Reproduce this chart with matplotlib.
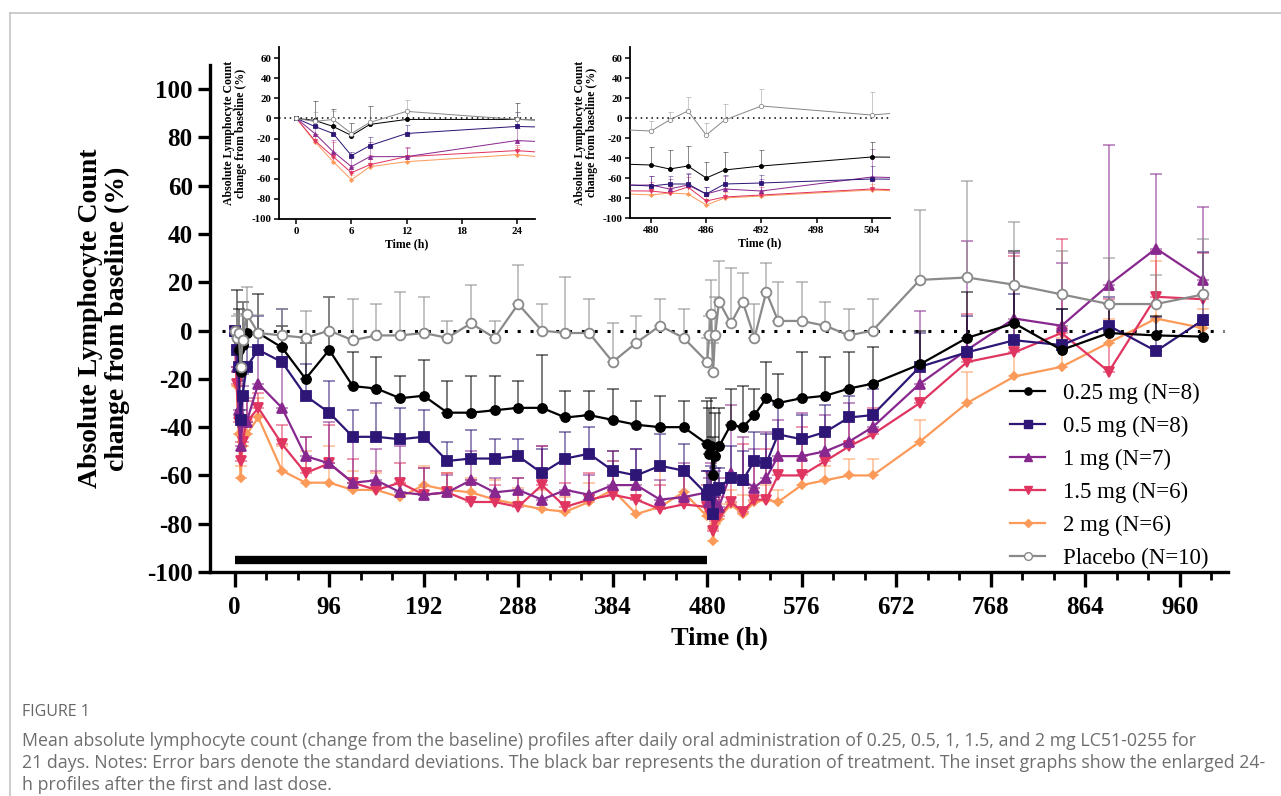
import numpy as np
import matplotlib
matplotlib.use("Agg")
import matplotlib.pyplot as plt
from matplotlib.lines import Line2D

plt.rcParams["axes.unicode_minus"] = False

# sampling times (h)
times = [0, 2, 4, 6, 8, 12, 24,
         48, 72, 96, 120, 144, 168, 192, 216, 240, 264, 288, 312, 336, 360, 384, 408, 432, 456,
         480, 482, 484, 486, 488, 492, 504,
         516, 528, 540, 552,
         576, 600, 624, 648,
         696, 744, 792, 840, 888, 936, 984]

mean_025 = [0, -2, -8, -17, -6, -1, -1,
            -7, -20, -8, -23, -24, -28, -27, -34, -34, -33, -32, -32, -36, -35, -37, -39, -40, -40,
            -47, -51, -48, -60, -52, -48, -39,
            -40, -35, -28, -30,
            -28, -27, -24, -22,
            -14, -3, 3, -8, -1, -2, -2.5]
sd_025 = [0, 19, 17, 12, 18, 8, 16,
          9, 15, 22, 14, 13, 9, 15, 13, 15, 14, 11, 22, 11, 10, 13, 10, 13, 11,
          18, 19, 20, 16, 18, 16, 15,
          17, 11, 15, 12,
          19, 16, 15, 15,
          14, 19, 30, 17, 12, 8, 5]

mean_05 = [0, -8, -15, -37, -27, -15, -8,
           -13, -27, -34, -44, -44, -45, -44, -54, -53, -53, -52, -59, -53, -51, -58, -60, -56, -58,
           -68, -66, -66, -76, -66, -65, -61,
           -62, -54, -55, -43,
           -45, -42, -36, -35,
           -15, -9, -4, -6, 2, -8.5, 4.5]
sd_05 = [0, 6, 8, 4, 9, 8, 14,
         22, 13, 13, 11, 14, 13, 11, 8, 12, 8, 7, 10, 11, 11, 8, 11, 13, 11,
         10, 8, 10, 7, 9, 8, 13,
         12, 12, 12, 12,
         10, 11, 9, 11,
         14, 15, 19, 15, 12, 14, 28]

mean_1 = [0, -15, -33, -48, -38, -38, -22,
          -32, -52, -55, -63, -62, -67, -68, -67, -62, -67, -66, -70, -66, -68, -64, -64, -70, -69,
          -67, -71, -67, -76, -71, -73, -59,
          -62, -65, -61, -52,
          -52, -50, -46, -40,
          -22, -8, 5, 2, 19, 34, 21]
sd_1 = [0, 8, 12, 10, 15, 10, 12,
        21, 8, 17, 18, 13, 19, 11, 7, 12, 6, 5, 22, 11, 8, 10, 15, 8, 14,
        9, 10, 12, 7, 13, 12, 28,
        18, 16, 19, 15,
        18, 15, 16, 18,
        30, 45, 27, 26, 58, 31, 30]

mean_15 = [0, -22, -38, -54, -46, -38, -32,
           -47, -59, -55, -63, -66, -63, -68, -67, -71, -71, -73, -64, -73, -70, -68, -70, -74, -72,
           -73, -75, -69, -83, -79, -77, -71,
           -75, -70, -70, -60,
           -60, -54, -48, -43,
           -30, -13, -9, -1, -17, 14, 13]
sd_15 = [0, 7, 15, 8, 10, 9, 6,
         8, 15, 16, 10, 8, 8, 11, 8, 9, 7, 12, 16, 10, 11, 18, 9, 10, 16,
         9, 8, 10, 6, 9, 8, 9,
         28, 15, 21, 16,
         20, 11, 12, 11,
         14, 20, 40, 39, 30, 19, 19]

mean_2 = [0, -23, -43, -61, -48, -43, -36,
          -58, -63, -63, -66, -66, -69, -64, -66, -67, -70, -72, -74, -75, -71, -66, -76, -73, -67,
          -77, -75, -76, -87, -80, -78, -72,
          -76, -71, -70, -71,
          -64, -62, -60, -60,
          -46, -30, -19, -15, -5, 5, 1]
sd_2 = [0, 6, 8, 5, 8, 6, 8,
        10, 13, 15, 8, 7, 6, 8, 7, 6, 8, 7, 8, 6, 8, 12, 8, 15, 8,
        6, 6, 7, 5, 6, 6, 6,
        8, 6, 6, 5,
        11, 6, 7, 7,
        9, 13, 14, 12, 10, 24, 8]

mean_pbo = [0, -3, -1, -15, -4, 7, -1,
            -2, -3, 0, -4, -2, -2, -1, -3, 3, -3, 11, 0, -1, -1, -13, -5, 2, -3,
            -13, -2, 7, -17, -2, 12, 3,
            12, -3, 16, 4,
            4, 2, -2, 0,
            21, 22, 19, 15, 11, 11, 15]
sd_pbo = [0, 9, 8, 10, 16, 11, 7.5,
          11, 11, 14, 17, 13, 18, 15, 7, 16, 7, 16, 11, 23, 14, 16, 11, 11, 12,
          10, 8, 14, 12, 16, 17, 23,
          12, 14, 12, 16,
          16, 10, 11, 13,
          29, 40, 26, 18, 19, 12, 23]

labels = ["0.25 mg (N=8)", "0.5 mg (N=8)", "1 mg (N=7)", "1.5 mg (N=6)", "2 mg (N=6)", "Placebo (N=10)"]
means = [mean_025, mean_05, mean_1, mean_15, mean_2, mean_pbo]
sds = [sd_025, sd_05, sd_1, sd_15, sd_2, sd_pbo]
colors = ["#000000", "#2e1676", "#88288f", "#e03560", "#fc9a5a", "#8a8a8a"]
markers = ["o", "s", "^", "v", "D", "o"]
msizes = [6.5, 6.5, 6.5, 6.5, 4.5, 7]

treat_start, treat_end = 0, 480

SERIF = "Liberation Serif"


def draw_series(ax, scale, zorders):
    for m, s, c, mk, ms, z in zip(means, sds, colors, markers, msizes, zorders):
        m = np.array(m, dtype=float)
        s = np.array(s, dtype=float)
        ax.errorbar(times, m, yerr=[np.zeros_like(s), s], fmt="none", ecolor=c, alpha=0.6,
                    elinewidth=1.2 * scale, capsize=4 * scale, capthick=1.2 * scale, zorder=z - 1)
        face = "white" if mk == "o" and c == "#8a8a8a" else c
        ax.plot(times, m, color=c, lw=1.6 * scale, marker=mk, ms=ms * scale,
                mfc=face, mec=c, mew=1.3 * scale, zorder=z)


fig = plt.figure(figsize=(12.81, 7.96), dpi=100)

# light panel border
fig.add_artist(Line2D([10 / 1281, 1], [1 - 13 / 796, 1 - 13 / 796], color="#c4c4c4", lw=1.2))
fig.add_artist(Line2D([10 / 1281, 10 / 1281], [0, 1 - 13 / 796], color="#c4c4c4", lw=1.2))

ax = fig.add_axes([0.164, 0.2814, 0.7946, 0.6369])
draw_series(ax, 1.0, [6, 5, 4, 3, 2, 7])
ax.plot([-13, 1005], [0, 0], color="black", ls=(0, (1, 3.2)), lw=2.2, zorder=1)
ax.plot([treat_start, treat_end], [-95, -95], color="black", lw=6, solid_capstyle="butt", zorder=8)

ax.set_xlim(-25, 1009)
ax.set_ylim(-100, 110)
ax.set_yticks(np.arange(-100, 101, 20))
ax.set_xticks(np.arange(0, 961, 96))
ax.set_xticks(np.arange(0, 1000, 32), minor=True)
for sp in ["top", "right"]:
    ax.spines[sp].set_visible(False)
for sp in ["left", "bottom"]:
    ax.spines[sp].set_linewidth(2.4)
ax.tick_params(axis="both", which="major", length=9, width=2.4, direction="out")
ax.tick_params(axis="x", which="minor", length=6, width=2.0)
ax.tick_params(axis="x", which="major", length=11, pad=6)
for lab in ax.get_xticklabels() + ax.get_yticklabels():
    lab.set_fontfamily(SERIF)
    lab.set_fontweight("bold")
    lab.set_fontsize(18)
ax.set_xlabel("Time (h)", fontfamily=SERIF, fontweight="bold", fontsize=19, labelpad=6)
ax.set_ylabel("Absolute Lymphocyte Count\nchange from baseline (%)", fontfamily=SERIF,
              fontweight="bold", fontsize=20, labelpad=12, linespacing=1.1)

handles = [Line2D([], [], color=c, lw=1.6, marker=mk, ms=ms * 0.8,
                  mfc=("white" if c == "#8a8a8a" else c), mec=c)
           for c, mk, ms in zip(colors, markers, msizes)]
leg = ax.legend(handles, labels, loc="upper left", bbox_to_anchor=(999 / 1281, 1 - 371 / 796),
                bbox_transform=fig.transFigure, frameon=False, handlelength=1.5,
                handletextpad=0.8, labelspacing=0.52, borderpad=0,
                prop={"family": SERIF, "size": 16.5})

# insets: first dose and last dose
insets = [([279 / 1281, 1 - 219 / 796, 256 / 1281, 172 / 796], (-1.9, 26), [0, 6, 12, 18, 24]),
          ([630 / 1281, 1 - 218 / 796, 260 / 1281, 171 / 796], (477.7, 506), [480, 486, 492, 498, 504])]
for rect, xl, xt in insets:
    ia = fig.add_axes(rect)
    draw_series(ia, 0.45, [6, 5, 4, 3, 2, 7])
    ia.axhline(0, color="black", ls=(0, (1, 2.5)), lw=1.1, zorder=1)
    ia.set_xlim(*xl)
    ia.set_ylim(-100, 71)
    ia.set_xticks(xt)
    ia.set_yticks(np.arange(-100, 61, 20))
    for sp in ["top", "right"]:
        ia.spines[sp].set_visible(False)
    for sp in ["left", "bottom"]:
        ia.spines[sp].set_linewidth(1.3)
    ia.tick_params(axis="both", length=3.5, width=1.1, pad=2)
    for lab in ia.get_xticklabels() + ia.get_yticklabels():
        lab.set_fontfamily(SERIF)
        lab.set_fontweight("bold")
        lab.set_fontsize(7.8)
    ia.set_xlabel("Time (h)", fontfamily=SERIF, fontweight="bold", fontsize=8.5, labelpad=2)
    ia.set_ylabel("Absolute Lymphocyte Count\nchange from baseline (%)", fontfamily=SERIF,
                  fontweight="bold", fontsize=8.5, labelpad=3, linespacing=1.0)

# caption
fig.text(22 / 1281, 1 - 712 / 796, "FIGURE 1", fontfamily="Open Sans", fontsize=11.5,
         color="#666666", va="center")
caption = ("Mean absolute lymphocyte count (change from the baseline) profiles after daily oral administration of 0.25, 0.5, 1, 1.5, and 2 mg LC51-0255 for\n"
           "21 days. Notes: Error bars denote the standard deviations. The black bar represents the duration of treatment. The inset graphs show the enlarged 24-\n"
           "h profiles after the first and last dose.")
fig.text(22 / 1281, 1 - 732 / 796, caption, fontfamily="Open Sans", fontsize=12.8,
         color="#6e6e6e", va="top", linespacing=1.27)

fig.savefig("out.png", dpi=100)
